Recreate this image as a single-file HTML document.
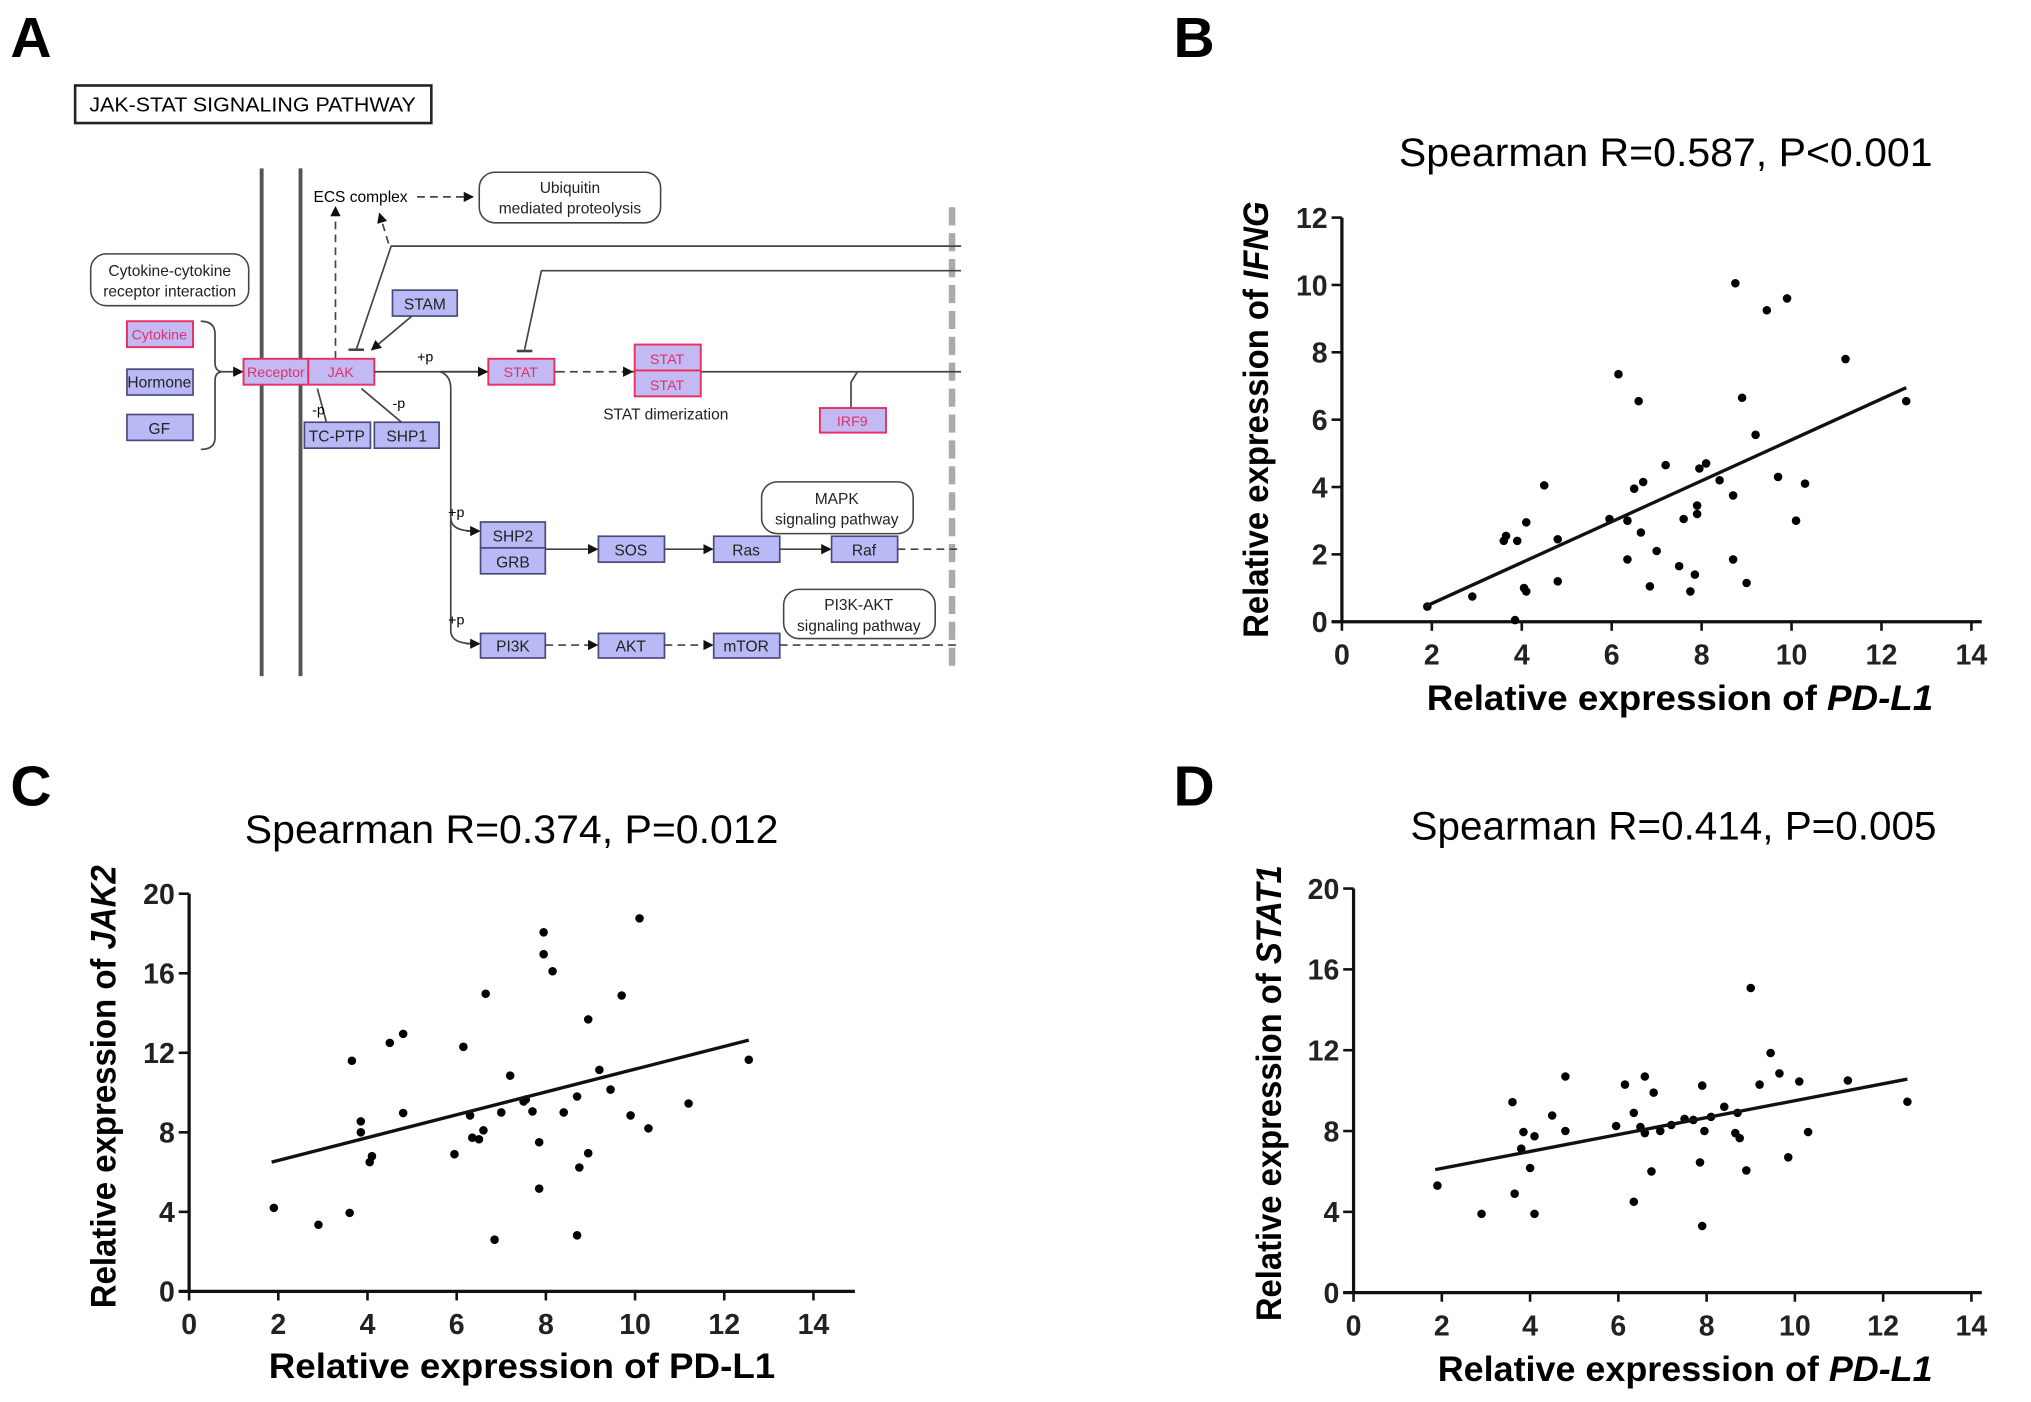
<!DOCTYPE html>
<html><head><meta charset="utf-8"><title>JAK-STAT and PD-L1 correlations</title>
<style>
html,body{margin:0;padding:0;background:#fff;}
svg{display:block;font-family:"Liberation Sans",Arial,sans-serif;}
.bx{fill:#b9b9f6;stroke:#4a4a7a;stroke-width:1.3;}
.pk{fill:#c3b9f3;stroke:#e8315f;stroke-width:1.5;}
.bt{font-size:12px;fill:#222;text-anchor:middle;}
.pt{font-size:11px;fill:#e0306a;text-anchor:middle;}
.rb{fill:#fff;stroke:#444;stroke-width:1.2;}
.ln{stroke:#444;stroke-width:1.3;fill:none;}
.dl{stroke:#444;stroke-width:1.3;fill:none;stroke-dasharray:6 4;}
</style></head>
<body>
<svg id="fig" width="2031" height="1402" viewBox="0 0 1568 1082.4" xmlns="http://www.w3.org/2000/svg">
<defs>
<marker id="ah" markerWidth="8" markerHeight="8" refX="7" refY="4" orient="auto" markerUnits="userSpaceOnUse"><path d="M0,0 L8,4 L0,8 z" fill="#111"/></marker>
</defs>

<g>
<text x="8" y="44" font-size="44" font-weight="bold">A</text>
<rect x="58" y="66" width="275" height="29" fill="#fff" stroke="#222" stroke-width="2"/>
<text x="195" y="86" font-size="16" text-anchor="middle" textLength="252" lengthAdjust="spacingAndGlyphs">JAK-STAT SIGNALING PATHWAY</text>
<line x1="202" y1="130" x2="202" y2="522" stroke="#555" stroke-width="3"/>
<line x1="232" y1="130" x2="232" y2="522" stroke="#555" stroke-width="3"/>
<line x1="735" y1="160" x2="735" y2="520" stroke="#aaa" stroke-width="5" stroke-dasharray="14 6"/>

<text x="242" y="156" font-size="12">ECS complex</text>
<line x1="322" y1="152" x2="365" y2="152" class="dl" marker-end="url(#ah)"/>
<rect x="370" y="133" width="140" height="39" rx="12" class="rb"/>
<text x="440" y="149" class="bt">Ubiquitin</text>
<text x="440" y="165" class="bt">mediated proteolysis</text>
<line x1="259" y1="277" x2="259" y2="160" class="dl" marker-end="url(#ah)"/>
<line x1="300" y1="188" x2="293" y2="165" class="dl" marker-end="url(#ah)"/>
<polyline points="742,190 302,190 275,270" class="ln"/>
<line x1="269" y1="270" x2="281" y2="270" stroke="#444" stroke-width="2"/>
<polyline points="742,209 418,209 405,270" class="ln"/>
<line x1="399" y1="271" x2="411" y2="271" stroke="#444" stroke-width="2"/>

<rect x="70" y="196" width="122" height="40" rx="12" class="rb"/>
<text x="131" y="213" class="bt">Cytokine-cytokine</text>
<text x="131" y="229" class="bt">receptor interaction</text>
<rect x="98" y="248" width="51" height="20" class="pk"/>
<text x="123" y="262" class="pt">Cytokine</text>
<rect x="98" y="285" width="51" height="20" class="bx"/>
<text x="123" y="299" class="bt" font-size="11">Hormone</text>
<rect x="98" y="320" width="51" height="20" class="bx"/>
<text x="123" y="335" class="bt">GF</text>
<path d="M155,248 Q166,248 166,258 L166,280 Q166,287 172,287 Q166,287 166,294 L166,338 Q166,347 155,347" class="ln"/>
<line x1="172" y1="287" x2="187" y2="287" class="ln" marker-end="url(#ah)"/>
<rect x="188" y="277" width="50" height="20" class="pk"/>
<text x="213" y="291" class="pt">Receptor</text>
<rect x="238" y="277" width="51" height="20" class="pk"/>
<text x="263" y="291" class="pt" font-size="12">JAK</text>
<rect x="303" y="224" width="50" height="20" class="bx"/>
<text x="328" y="239" class="bt">STAM</text>
<line x1="318" y1="244" x2="287" y2="270" class="ln" marker-end="url(#ah)"/>
<line x1="289" y1="287" x2="742" y2="287" class="ln"/>
<line x1="340" y1="287" x2="376" y2="287" class="ln" marker-end="url(#ah)"/>
<text x="322" y="279" font-size="11">+p</text>
<rect x="377" y="277" width="51" height="20" class="pk"/>
<text x="402" y="291" class="pt" font-size="12">STAT</text>
<line x1="430" y1="287" x2="488" y2="287" stroke="#fff" stroke-width="3"/>
<line x1="430" y1="287" x2="488" y2="287" class="dl" marker-end="url(#ah)"/>
<rect x="490" y="266" width="51" height="20" class="pk"/>
<text x="515" y="281" class="pt" font-size="12">STAT</text>
<rect x="490" y="286" width="51" height="20" class="pk"/>
<text x="515" y="301" class="pt" font-size="12">STAT</text>
<text x="514" y="324" class="bt">STAT dimerization</text>
<polyline points="657,315 657,295 662,287" class="ln"/>
<rect x="633" y="315" width="51" height="19" class="pk"/>
<text x="658" y="329" class="pt">IRF9</text>
<line x1="252" y1="326" x2="245" y2="300" class="ln"/>
<line x1="310" y1="326" x2="279" y2="300" class="ln"/>
<text x="241" y="320" font-size="11">-p</text>
<text x="303" y="315" font-size="11">-p</text>
<rect x="235" y="326" width="51" height="20" class="bx"/>
<text x="260" y="341" class="bt">TC-PTP</text>
<rect x="289" y="326" width="50" height="20" class="bx"/>
<text x="314" y="341" class="bt">SHP1</text>
<path d="M340,287 Q348,290 348,300 L348,400 Q348,410 366,410" class="ln"/>
<line x1="360" y1="410" x2="370" y2="410" class="ln" marker-end="url(#ah)"/>
<path d="M348,400 L348,487 Q348,497 366,497" class="ln"/>
<line x1="360" y1="497" x2="370" y2="497" class="ln" marker-end="url(#ah)"/>
<text x="346" y="399" font-size="11">+p</text>
<text x="346" y="482" font-size="11">+p</text>
<rect x="371" y="403" width="50" height="20" class="bx"/>
<text x="396" y="418" class="bt">SHP2</text>
<rect x="371" y="423" width="50" height="20" class="bx"/>
<text x="396" y="438" class="bt">GRB</text>
<line x1="421" y1="424" x2="461" y2="424" class="ln" marker-end="url(#ah)"/>
<rect x="462" y="414" width="51" height="20" class="bx"/>
<text x="487" y="429" class="bt">SOS</text>
<line x1="513" y1="424" x2="550" y2="424" class="ln" marker-end="url(#ah)"/>
<rect x="551" y="414" width="51" height="20" class="bx"/>
<text x="576" y="429" class="bt">Ras</text>
<line x1="602" y1="424" x2="641" y2="424" class="ln" marker-end="url(#ah)"/>
<rect x="642" y="414" width="51" height="20" class="bx"/>
<text x="667" y="429" class="bt">Raf</text>
<line x1="693" y1="424" x2="742" y2="424" class="dl" stroke="#777"/>
<rect x="588" y="372" width="117" height="40" rx="12" class="rb"/>
<text x="646" y="389" class="bt">MAPK</text>
<text x="646" y="405" class="bt">signaling pathway</text>
<rect x="371" y="489" width="50" height="19" class="bx"/>
<text x="396" y="503" class="bt">PI3K</text>
<line x1="421" y1="498" x2="461" y2="498" class="dl" marker-end="url(#ah)"/>
<rect x="462" y="489" width="51" height="19" class="bx"/>
<text x="487" y="503" class="bt">AKT</text>
<line x1="513" y1="498" x2="550" y2="498" class="dl" marker-end="url(#ah)"/>
<rect x="551" y="489" width="51" height="19" class="bx"/>
<text x="576" y="503" class="bt">mTOR</text>
<line x1="602" y1="498" x2="742" y2="498" class="dl" stroke="#777"/>
<rect x="605" y="455" width="117" height="38" rx="12" class="rb"/>
<text x="663" y="471" class="bt">PI3K-AKT</text>
<text x="663" y="487" class="bt">signaling pathway</text>
</g>

<text x="906" y="44" font-size="44" font-weight="bold">B</text>
<text x="8" y="622" font-size="44" font-weight="bold">C</text>
<text x="906" y="622" font-size="44" font-weight="bold">D</text>

<text x="1286" y="128" font-size="31" text-anchor="middle" textLength="412" lengthAdjust="spacingAndGlyphs">Spearman R=0.587, P&lt;0.001</text>
<text x="395" y="651" font-size="31" text-anchor="middle" textLength="412" lengthAdjust="spacingAndGlyphs">Spearman R=0.374, P=0.012</text>
<text x="1292" y="648" font-size="31" text-anchor="middle" textLength="406" lengthAdjust="spacingAndGlyphs">Spearman R=0.414, P=0.005</text>

<text x="1297" y="548" font-size="27" font-weight="bold" text-anchor="middle" textLength="391" lengthAdjust="spacingAndGlyphs">Relative expression of <tspan font-style="italic">PD-L1</tspan></text>
<text transform="translate(979,324) rotate(-90)" font-size="27" font-weight="bold" text-anchor="middle" textLength="337" lengthAdjust="spacingAndGlyphs">Relative expression of <tspan font-style="italic">IFNG</tspan></text>
<text x="403" y="1064" font-size="27" font-weight="bold" text-anchor="middle" textLength="391" lengthAdjust="spacingAndGlyphs">Relative expression of PD-L1</text>
<text transform="translate(89,839) rotate(-90)" font-size="27" font-weight="bold" text-anchor="middle" textLength="342" lengthAdjust="spacingAndGlyphs">Relative expression of <tspan font-style="italic">JAK2</tspan></text>
<text x="1301" y="1066" font-size="27" font-weight="bold" text-anchor="middle" textLength="382" lengthAdjust="spacingAndGlyphs">Relative expression of <tspan font-style="italic">PD-L1</tspan></text>
<text transform="translate(989,844) rotate(-90)" font-size="27" font-weight="bold" text-anchor="middle" textLength="352" lengthAdjust="spacingAndGlyphs">Relative expression of <tspan font-style="italic">STAT1</tspan></text>

<g id="chart-b"></g>
<g id="chart-c"></g>
<g id="chart-d"></g>
</svg>

<script>
// Shared x ticks
const xTicks = [0, 2, 4, 6, 8, 10, 12, 14];
// Panel B: IFNG vs PD-L1
const bTicksY = [0, 2, 4, 6, 8, 10, 12];
const bX = [1.9,2.9,3.6,3.65,3.9,3.85,4.05,4.1,4.1,4.5,4.8,4.8,5.95,6.15,6.35,6.35,6.5,6.6,6.65,6.7,6.85,7.0,7.2,7.5,7.6,7.75,7.85,7.9,7.9,7.95,8.1,8.4,8.7,8.7,8.75,8.9,9.0,9.2,9.45,9.7,9.9,10.1,10.3,11.2,12.55];
const bY = [0.45,0.75,2.4,2.55,2.4,0.05,1.0,0.9,2.95,4.05,2.45,1.2,3.05,7.35,3.0,1.85,3.95,6.55,2.65,4.15,1.05,2.1,4.65,1.65,3.05,0.9,1.4,3.45,3.2,4.55,4.7,4.2,3.75,1.85,10.05,6.65,1.15,5.55,9.25,4.3,9.6,3.0,4.1,7.8,6.55];
const bFitX = [1.85, 12.55];
const bFitY = [0.45, 6.95];
// Panel C: JAK2 vs PD-L1
const cTicksY = [0, 4, 8, 12, 16, 20];
const cX = [1.9,2.9,3.6,3.65,3.85,3.85,4.05,4.1,4.5,4.8,4.8,5.95,6.15,6.3,6.35,6.5,6.6,6.65,6.85,7.0,7.2,7.5,7.55,7.7,7.85,7.85,7.95,7.95,8.15,8.4,8.7,8.7,8.75,8.95,8.95,9.2,9.45,9.7,9.9,10.1,10.3,11.2,12.55];
const cY = [4.2,3.35,3.95,11.6,8.55,8.0,6.5,6.8,12.5,12.95,8.97,6.9,12.3,8.85,7.73,7.65,8.1,14.97,2.6,9.0,10.85,9.55,9.65,9.05,7.5,5.17,18.06,16.96,16.1,9.0,9.8,2.82,6.23,6.95,13.68,11.14,10.15,14.88,8.85,18.76,8.2,9.45,11.65];
const cFitX = [1.85, 12.55];
const cFitY = [6.5, 12.64];
// Panel D: STAT1 vs PD-L1
const dTicksY = [0, 4, 8, 12, 16, 20];
const dX = [1.9,2.9,3.6,3.65,3.85,3.8,4.0,4.1,4.1,4.5,4.8,4.8,5.95,6.15,6.35,6.35,6.5,6.6,6.6,6.75,6.8,6.95,7.2,7.5,7.7,7.85,7.9,7.9,7.95,8.1,8.4,8.7,8.65,8.75,8.9,9.0,9.2,9.45,9.65,9.85,10.1,10.3,11.2,12.55];
const dY = [5.3,3.9,9.43,4.9,7.95,7.13,6.17,7.74,3.9,8.77,10.7,8.0,8.25,10.3,8.9,4.5,8.2,10.7,7.9,6.0,9.9,8.0,8.3,8.6,8.55,6.45,3.3,10.25,8.0,8.7,9.2,8.9,7.9,7.65,6.05,15.08,10.3,11.86,10.85,6.7,10.45,7.95,10.5,9.45];
const dFitX = [1.85, 12.55];
const dFitY = [6.09, 10.57];

const NS = "http://www.w3.org/2000/svg";
function mk(tag, attrs, parent) {
  const e = document.createElementNS(NS, tag);
  for (const k in attrs) e.setAttribute(k, attrs[k]);
  parent.appendChild(e);
  return e;
}
function drawChart(gid, L, ticksY, xs, ys, fitX, fitY) {
  const g = document.getElementById(gid);
  const yMax = ticksY[ticksY.length - 1];
  const sx = v => L.x0 + (v / 14) * (L.x14 - L.x0);
  const sy = v => L.y0 - (v / yMax) * (L.y0 - L.yTop);
  const ax = mk('line', {x1: L.x0, y1: L.yTop, x2: L.x0, y2: L.y0, stroke: '#111', 'stroke-width': 2.5}, g);
  
  
  const bx = mk('line', {x1: L.x0 - 8, y1: L.y0, x2: L.xEnd, y2: L.y0, stroke: '#111', 'stroke-width': 2.5}, g);
  
  
  xTicks.forEach(t => {
    const tk = mk('line', {x1: sx(t), y1: L.y0, x2: sx(t), y2: L.y0 + 7, stroke: '#111', 'stroke-width': 2}, g);
    
    
    const tl = mk('text', {x: sx(t), y: L.y0 + 33, 'font-size': 22, 'font-weight': 'bold', 'text-anchor': 'middle', fill: '#222'}, g);
    tl.textContent = String(t);
    
    
  });
  ticksY.forEach(t => {
    const tk = mk('line', {x1: L.x0 - 8, y1: sy(t), x2: L.x0, y2: sy(t), stroke: '#111', 'stroke-width': 2}, g);
    
    
    const tl = mk('text', {x: L.x0 - 11, y: sy(t) + 8, 'font-size': 22, 'font-weight': 'bold', 'text-anchor': 'end', fill: '#222'}, g);
    tl.textContent = String(t);
    
    
  });
  xs.forEach((v, i) => {
    const c = mk('circle', {cx: sx(v), cy: sy(ys[i]), r: 3.3, fill: '#000'}, g);
    
    
  });
  const fl = mk('line', {x1: sx(fitX[0]), y1: sy(fitY[0]), x2: sx(fitX[1]), y2: sy(fitY[1]), stroke: '#111', 'stroke-width': 2.6}, g);
  
  
}
drawChart('chart-b', {x0: 1036, x14: 1522, xEnd: 1530, y0: 480, yTop: 168}, bTicksY, bX, bY, bFitX, bFitY);
drawChart('chart-c', {x0: 146, x14: 628, xEnd: 660, y0: 997, yTop: 690}, cTicksY, cX, cY, cFitX, cFitY);
drawChart('chart-d', {x0: 1045, x14: 1522, xEnd: 1530, y0: 998, yTop: 686}, dTicksY, dX, dY, dFitX, dFitY);
</script>
</body></html>
